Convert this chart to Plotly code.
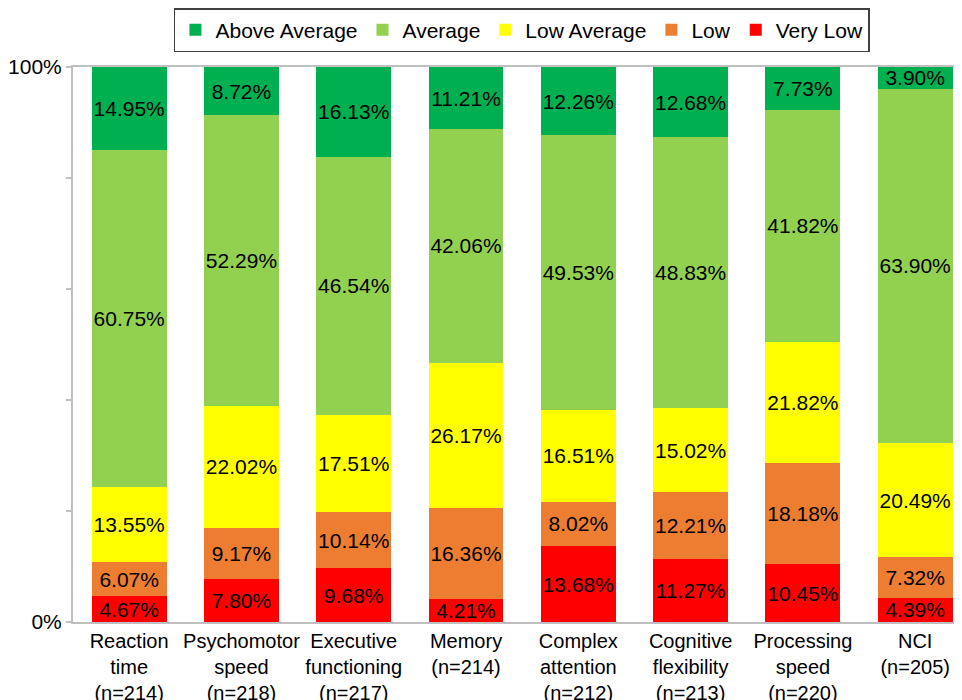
import plotly.graph_objects as go

categories = ["Reaction<br>time<br>(n=214)", "Psychomotor<br>speed<br>(n=218)",
              "Executive<br>functioning<br>(n=217)", "Memory<br>(n=214)",
              "Complex<br>attention<br>(n=212)", "Cognitive<br>flexibility<br>(n=213)",
              "Processing<br>speed<br>(n=220)", "NCI<br>(n=205)"]

very_low = [4.67, 7.80, 9.68, 4.21, 13.68, 11.27, 10.45, 4.39]
low = [6.07, 9.17, 10.14, 16.36, 8.02, 12.21, 18.18, 7.32]
low_average = [13.55, 22.02, 17.51, 26.17, 16.51, 15.02, 21.82, 20.49]
average = [60.75, 52.29, 46.54, 42.06, 49.53, 48.83, 41.82, 63.90]
above_average = [14.95, 8.72, 16.13, 11.21, 12.26, 12.68, 7.73, 3.90]

series = [
    ("Very Low", very_low, "#FF0000"),
    ("Low", low, "#ED7D31"),
    ("Low Average", low_average, "#FFFF00"),
    ("Average", average, "#92D050"),
    ("Above Average", above_average, "#00B050"),
]

y_tickvals = [0, 20, 40, 60, 80, 100]
y_ticktext = ["0%", "", "", "", "", "100%"]

FONT = "Liberation Sans, Arial, sans-serif"
FS = 21

fig = go.Figure()
for name, vals, color in series:
    fig.add_trace(go.Bar(
        name=name, x=categories, y=vals,
        marker=dict(color=color, line=dict(width=0)),
        text=[f"{v:.2f}%" for v in vals],
        textposition="inside", insidetextanchor="middle",
        textangle=0, constraintext="none",
        textfont=dict(size=FS, color="#000000", family=FONT),
    ))

fig.update_layout(
    barmode="stack",
    bargap=0.333,
    width=954, height=692,
    margin=dict(l=65, r=0, t=59, b=78),
    plot_bgcolor="white", paper_bgcolor="white",
    font=dict(family=FONT, size=FS, color="#000000"),
    uniformtext=dict(minsize=FS, mode="show"),
    legend=dict(orientation="h", x=0.505, xanchor="center", y=1.027, yanchor="bottom",
                traceorder="reversed", bordercolor="#404040", borderwidth=1.5,
                font=dict(size=FS, family=FONT, color="#000000"),
                itemsizing="constant", tracegroupgap=0),
    xaxis=dict(range=[-0.5, 7.417], showline=True, linecolor="#BFBFBF", linewidth=2,
               mirror=True, ticks="", tickangle=0, automargin=False,
               tickfont=dict(size=20, color="#000000")),
    yaxis=dict(range=[0, 100], tickvals=y_tickvals, ticktext=y_ticktext,
               showline=True, linecolor="#BFBFBF", linewidth=2,
               ticks="outside", ticklen=5, tickcolor="#BFBFBF", tickwidth=2,
               showgrid=False, zeroline=False, automargin=False,
               tickfont=dict(size=FS, color="#000000")),
)

fig.write_html("out.html")
